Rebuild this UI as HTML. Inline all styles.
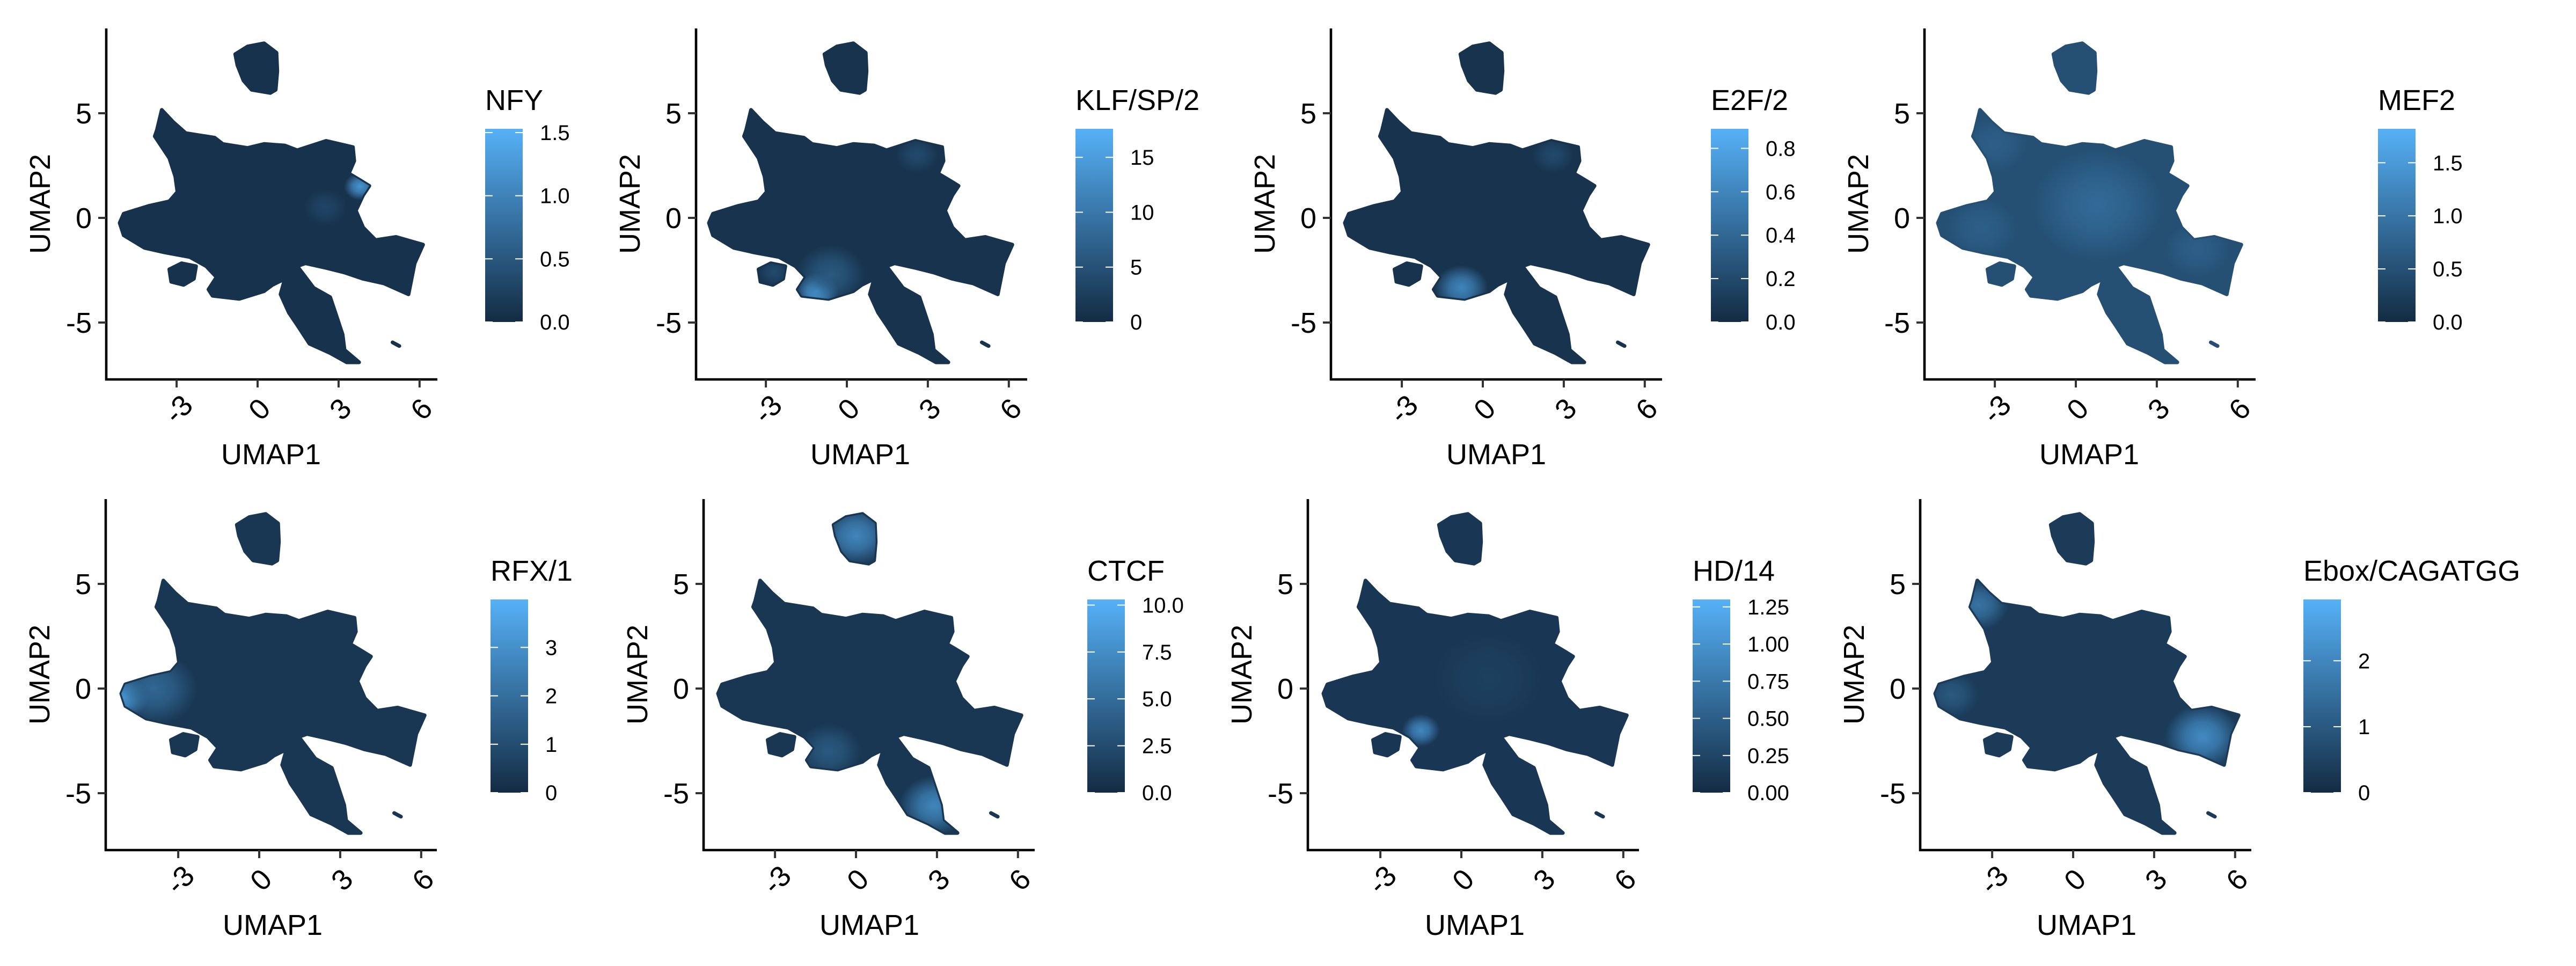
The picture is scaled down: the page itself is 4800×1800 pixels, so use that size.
<!DOCTYPE html>
<html><head><meta charset="utf-8">
<style>
html,body{margin:0;padding:0;background:#fff;}
svg{display:block;}
text{font-family:"Liberation Sans",sans-serif;fill:#000;}
</style></head>
<body>
<svg id="fig" width="4800" height="1800" viewBox="0 0 4800 1800" xmlns="http://www.w3.org/2000/svg">
<defs id="defs"></defs>
</svg>
<script>
// ---- data: UMAP embedding outline (UMAP1, UMAP2) ----
const mainX = [-3.55,-3.12,-2.66,-1.59,-1.29,-0.37,0.24,1.01,1.47,2.54,3.53,3.58,3.38,3.76,4.14,3.91,3.64,3.91,4.37,5.13,6.13,5.82,5.59,4.68,3.91,3.22,2.54,1.77,1.47,2.08,2.69,2.92,3.15,3.22,3.76,3.30,2.69,1.92,1.47,1.16,0.85,1.01,0.55,0.24,-0.68,-1.67,-1.82,-1.52,-1.90,-2.51,-3.43,-4.19,-4.96,-5.11,-4.96,-4.04,-3.27,-2.97,-3.05,-3.27,-3.81,-3.73];
const mainY = [5.16,4.57,4.05,3.83,3.53,3.34,3.53,3.46,3.23,3.68,3.38,2.72,2.12,1.83,1.53,1.09,0.35,-0.46,-1.06,-0.91,-1.28,-2.17,-3.65,-3.13,-2.91,-2.61,-2.39,-2.17,-2.31,-3.35,-3.79,-4.68,-5.57,-6.31,-6.90,-6.90,-6.46,-6.01,-5.12,-4.53,-3.65,-2.91,-3.20,-3.50,-3.87,-3.72,-3.42,-2.83,-2.31,-1.87,-1.65,-1.43,-0.83,-0.24,0.20,0.57,0.79,1.24,1.98,2.86,3.90,4.20];
const topX = [-0.83,-0.37,0.24,0.70,0.73,0.67,0.47,-0.22,-0.52,-0.75];
const topY = [7.82,8.19,8.34,7.89,7.01,6.12,5.97,6.12,6.56,7.30];
const leftX = [-3.27,-2.82,-2.28,-2.36,-2.74,-3.20];
const leftY = [-2.46,-2.17,-2.31,-2.91,-3.20,-3.05];
const tinyX = [5.0,5.13,5.25];
const tinyY = [-5.95,-6.04,-6.12];

// ---- data: per-panel motif names, scale maxima, legend ticks ----
const motifs = ["NFY","KLF/SP/2","E2F/2","MEF2","RFX/1","CTCF","HD/14","Ebox/CAGATGG"];
const scaleMax = [1.53,17.6,0.89,1.82,3.99,10.3,1.30,2.93];
const baseValue = [0.08,1.0,0.05,0.5,0.35,0.9,0.12,0.35];
const legendTicks = [[0,0.5,1,1.5],[0,5,10,15],[0,0.2,0.4,0.6,0.8],[0,0.5,1,1.5],[0,1,2,3],[0,2.5,5,7.5,10],[0,0.25,0.5,0.75,1,1.25],[0,1,2]];
const legendLabels = [["0.0","0.5","1.0","1.5"],["0","5","10","15"],["0.0","0.2","0.4","0.6","0.8"],["0.0","0.5","1.0","1.5"],["0","1","2","3"],["0.0","2.5","5.0","7.5","10.0"],["0.00","0.25","0.50","0.75","1.00","1.25"],["0","1","2"]];
// hotspots: [umap1, umap2, radius, value]
const hotspots = [
 [[3.8,1.5,0.6,1.2],[2.5,0.5,0.8,0.3]],
 [[-1.1,-3.5,0.8,16],[-0.6,-2.7,1.3,6],[2.6,3.0,0.8,4],[-2.7,-2.6,0.6,4]],
 [[-0.8,-3.35,1.0,0.6],[2.6,3.0,0.8,0.2]],
 [[0.8,0.6,2.4,0.85],[-3.0,3.5,1.2,0.7],[4.5,-1.5,1.2,0.7],[-3.5,-0.5,1.3,0.7]],
 [[-5.0,-0.4,0.9,3.7],[-3.9,0.0,1.6,1.8]],
 [[0.0,7.3,1.3,7],[2.9,-5.6,1.3,7],[-1.0,-3.0,1.2,3.5]],
 [[-1.5,-2.0,0.7,0.9],[1.0,0.5,2.0,0.2]],
 [[4.8,-2.3,1.4,2.1],[-3.5,4.0,1.1,1.6],[-4.5,-0.3,1.0,1.0]]
];
const xTicks = [-3,0,3,6];
const xTickLabels = ["-3","0","3","6"];
const yTicks = [5,0,-5];
const yTickLabels = ["5","0","-5"];

// ---- layout (pixel geometry, not data) ----
const layout = [
 {ax:198,ox:480,lx:904,row:0},{ax:1297,ox:1578,lx:2004,row:0},{ax:2480,ox:2763,lx:3188,row:0},{ax:3586,ox:3868,lx:4431,row:0},
 {ax:197,ox:483,lx:914,row:1},{ax:1311,ox:1595,lx:2026,row:1},{ax:2437,ox:2723,lx:3154,row:1},{ax:3578,ox:3863,lx:4292,row:1}
];
const XS = 50.3, YS = 39, ROWH = 877;
const svg = document.getElementById('fig');
const defs = document.getElementById('defs');
const NS = "http://www.w3.org/2000/svg";
function mk(tag, attrs, parent){const e=document.createElementNS(NS,tag);for(const k in attrs)e.setAttribute(k,attrs[k]);(parent||svg).appendChild(e);return e;}
const lo=[0x13,0x2B,0x43], hi=[0x56,0xB1,0xF7];
function colorOf(v,max){let t=Math.max(0,Math.min(1,v/max));return "rgb("+lo.map((c,i)=>Math.round(c+(hi[i]-c)*t)).join(",")+")";}

layout.forEach((L,p)=>{
  const oy = 406 + L.row*ROWH;
  const sx = u => L.ox + u*XS;
  const sy = u => oy - u*YS;
  const g = mk('g',{});
  
  
  const pathOf=(xs,ys)=>"M"+xs.map((x,i)=>sx(x).toFixed(1)+","+sy(ys[i]).toFixed(1)).join("L")+"Z";
  const d = pathOf(mainX,mainY)+pathOf(topX,topY)+pathOf(leftX,leftY)+pathOf(tinyX,tinyY);
  const cp = mk('clipPath',{id:'clip'+p},defs);
  mk('path',{d:d},cp);
  const baseCol = colorOf(baseValue[p],scaleMax[p]);
  const cloud = mk('path',{d:d,fill:baseCol,stroke:baseCol,'stroke-width':7,'stroke-linejoin':'round'},g);
  
  
  const hg = mk('g',{'clip-path':'url(#clip'+p+')'},g);
  hotspots[p].forEach((h,k)=>{
    const gid='hs'+p+'_'+k;
    const rg=mk('radialGradient',{id:gid},defs);
    const c=colorOf(h[3],scaleMax[p]);
    mk('stop',{offset:'0','stop-color':c,'stop-opacity':'1'},rg);
    mk('stop',{offset:'0.45','stop-color':c,'stop-opacity':'0.7'},rg);
    mk('stop',{offset:'1','stop-color':c,'stop-opacity':'0'},rg);
    const el=mk('ellipse',{cx:sx(h[0]),cy:sy(h[1]),rx:h[2]*XS,ry:h[2]*YS*1.1,fill:'url(#'+gid+')'},hg);
    
    
  });
  const top = 53 + L.row*ROWH, bot = 707 + L.row*ROWH, right = L.ax + 617;
  const ya = mk('line',{x1:L.ax,y1:top,x2:L.ax,y2:bot+2,stroke:'#000','stroke-width':4.6},g);
  
  
  const xa = mk('line',{x1:L.ax-2,y1:bot,x2:right,y2:bot,stroke:'#000','stroke-width':4.6},g);
  
  
  yTicks.forEach((t,i)=>{
    mk('line',{x1:L.ax-15,y1:sy(t),x2:L.ax,y2:sy(t),stroke:'#333','stroke-width':4},g);
    const tx=mk('text',{x:L.ax-27,y:sy(t)+19,'text-anchor':'end','font-size':54,fill:'#000'},g);
    tx.textContent=yTickLabels[i];
    
    
  });
  xTicks.forEach((t,i)=>{
    mk('line',{x1:sx(t),y1:bot,x2:sx(t),y2:bot+15,stroke:'#333','stroke-width':4},g);
    const cx=sx(t)+3, cy=bot+55;
    const tx=mk('text',{x:cx,y:cy+19,'text-anchor':'middle','font-size':54,transform:'rotate(-45 '+cx+' '+cy+')'},g);
    tx.textContent=xTickLabels[i];
    
    
  });
  const xt=mk('text',{x:L.ox+25,y:bot+158,'text-anchor':'middle','font-size':54},g);
  xt.textContent='UMAP1';
  
  
  const ytx=L.ax-105, yty=380+L.row*ROWH;
  const yt=mk('text',{x:ytx,y:yty,'text-anchor':'middle','font-size':54,transform:'rotate(-90 '+ytx+' '+yty+')'},g);
  yt.textContent='UMAP2';
  
  
  const lt=mk('text',{x:L.lx,y:205+L.row*ROWH,'font-size':54},g);
  lt.textContent=motifs[p];
  
  
  const btop=240+L.row*ROWH, bbot=600+L.row*ROWH, bw=70;
  const lg=mk('linearGradient',{id:'lg'+p,x1:0,y1:1,x2:0,y2:0},defs);
  mk('stop',{offset:0,'stop-color':colorOf(0,1)},lg);
  mk('stop',{offset:1,'stop-color':colorOf(1,1)},lg);
  const bar=mk('rect',{x:L.lx,y:btop,width:bw,height:bbot-btop,fill:'url(#lg'+p+')'},g);
  
  
  const by = v => bbot - v/scaleMax[p]*(bbot-btop);
  legendTicks[p].forEach((t,i)=>{
    mk('line',{x1:L.lx,y1:by(t),x2:L.lx+14,y2:by(t),stroke:'#fff','stroke-width':2},g);
    mk('line',{x1:L.lx+bw-14,y1:by(t),x2:L.lx+bw,y2:by(t),stroke:'#fff','stroke-width':2},g);
    const tx=mk('text',{x:L.lx+bw+32,y:by(t)+14,'font-size':40},g);
    tx.textContent=legendLabels[p][i];
    
    
  });
});
</script>
</body></html>
